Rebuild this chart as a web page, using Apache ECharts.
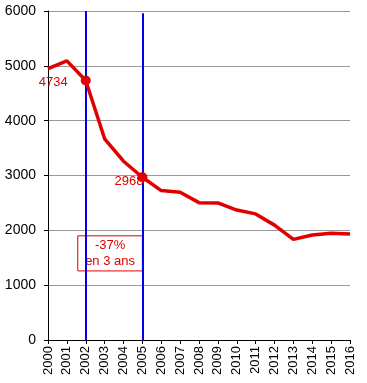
<!DOCTYPE html>
<html><head><meta charset="utf-8">
<script src="https://cdn.jsdelivr.net/npm/echarts@6/dist/echarts.min.js"></script>
<style>html,body{margin:0;padding:0;background:#fff}#c{width:367px;height:383px}</style>
</head><body><div id="c"></div>
<script>
const years = ['2000','2001','2002','2003','2004','2005','2006','2007','2008','2009','2010','2011','2012','2013','2014','2015','2016'];
const values = [4950, 5090, 4734, 3670, 3260, 2968, 2725, 2695, 2505, 2500, 2370, 2300, 2095, 1835, 1915, 1945, 1935];
const highlightYears = ['2002', '2005'];
const annotationText = '-37%\nen 3 ans';

const chart = echarts.init(document.getElementById('c'));
const font = 'Liberation Sans, Arial, sans-serif';
const labelOffsets = {'2002': [-8, 2], '2005': [11, 4]};
const data = values.map((v, i) => {
  const hl = highlightYears.includes(years[i]);
  return {
    value: v,
    symbol: hl ? 'circle' : 'none',
    symbolSize: hl ? 10 : 0,
    label: hl ? {show: true, position: 'left', offset: labelOffsets[years[i]], color: '#e00000', fontSize: 13, fontFamily: font, formatter: '{c}'} : {show: false}
  };
});
chart.setOption({
  animation: false,
  grid: {left: 48, right: 17, top: 11, bottom: 43},
  xAxis: {
    type: 'category', data: years, boundaryGap: false,
    axisLine: {lineStyle: {color: '#000', width: 1}},
    axisTick: {show: true, alignWithLabel: true, length: 4, lineStyle: {color: '#000'}},
    axisLabel: {rotate: 90, color: '#000', fontSize: 13, fontFamily: font, margin: 6, interval: 0},
    splitLine: {show: false}
  },
  yAxis: {
    type: 'value', min: 0, max: 6000, interval: 1000,
    axisLine: {show: true, lineStyle: {color: '#000'}},
    axisTick: {show: true, length: 4, lineStyle: {color: '#000'}},
    axisLabel: {color: '#000', fontSize: 14, fontFamily: font, margin: 12, formatter: v => String(v)},
    splitLine: {lineStyle: {color: '#999', width: 1}}
  },
  series: [{
    type: 'line', data: data, showSymbol: true,
    lineStyle: {color: '#e00000', width: 3.5},
    itemStyle: {color: '#e00000'},
    z: 3,
    markLine: {
      silent: true, symbol: ['none', 'none'],
      lineStyle: {color: '#0000ee', width: 2, type: 'solid'},
      label: {show: false},
      z: 2,
      data: [
        [{coord: ['2002', 0]}, {coord: ['2002', 6000]}],
        [{coord: ['2005', 0]}, {coord: ['2005', 5960]}]
      ]
    }
  }]
});
const p1 = chart.convertToPixel({gridIndex: 0}, ['2002', 1900]);
const p2 = chart.convertToPixel({gridIndex: 0}, ['2005', 1260]);
const x0 = p1[0] - 8, x1 = p2[0];
chart.setOption({
  graphic: [{
    type: 'rect', shape: {x: x0, y: p1[1], width: x1 - x0, height: p2[1] - p1[1]},
    style: {fill: 'none', stroke: '#e00000', lineWidth: 1}, z: 1
  }, {
    type: 'text', x: (x0 + x1) / 2, y: (p1[1] + p2[1]) / 2,
    style: {text: annotationText, fill: '#e00000', font: '13px ' + font, align: 'center', verticalAlign: 'middle', lineHeight: 16}, z: 1
  }]
});
</script></body></html>
